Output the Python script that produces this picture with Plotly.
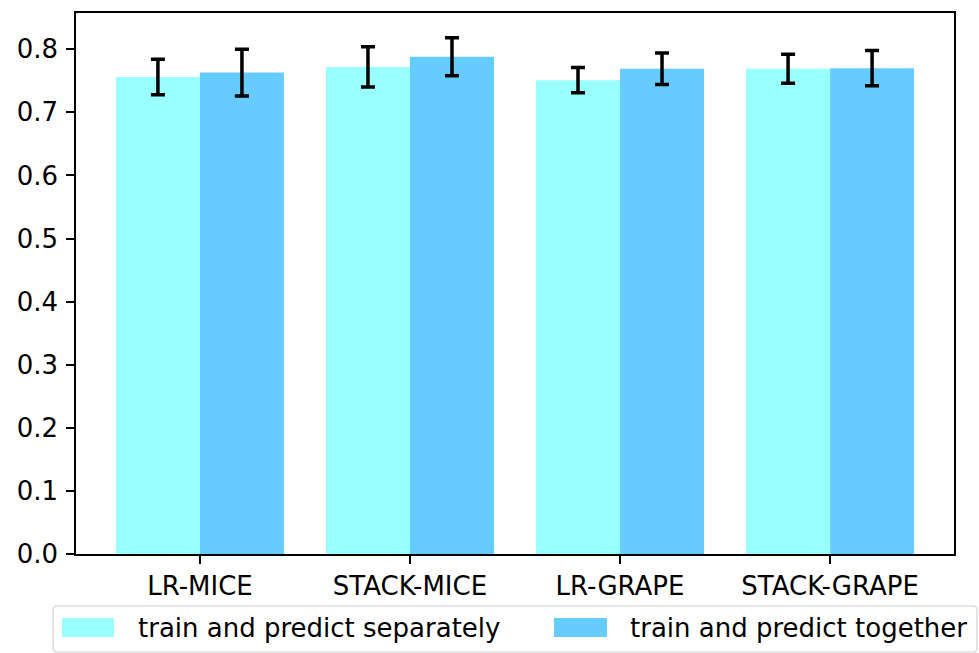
import plotly.graph_objects as go

# Mean scores and standard deviations per imputation/model setup
methods = ["LR-MICE", "STACK-MICE", "LR-GRAPE", "STACK-GRAPE"]
separate_mean = [0.756, 0.772, 0.751, 0.769]
separate_err = [0.028, 0.032, 0.020, 0.023]
together_mean = [0.763, 0.788, 0.769, 0.770]
together_err = [0.037, 0.030, 0.025, 0.028]
series_names = ["train and predict separately", "train and predict together"]
series_colors = ["#99ffff", "#66ccff"]

W, H = 979, 653
ML, MR, MT, MB = 76, 25, 13, 99
PW, PH = W - ML - MR, H - MT - MB
FONT = dict(family="DejaVu Sans", size=26, color="black")

fig = go.Figure()
for name, vals, errs, col in zip(series_names, [separate_mean, together_mean],
                                 [separate_err, together_err], series_colors):
    fig.add_trace(go.Bar(
        x=methods, y=vals, name=name, marker=dict(color=col, line=dict(width=0)),
        error_y=dict(type="data", array=errs, color="black", thickness=3.5, width=7),
        showlegend=False,
    ))

# Pixel -> paper helpers for the framed legend below the axes
def px(xp):
    return (xp - ML) / PW

def py(yp):
    return (H - MB - yp) / PH

def rounded_rect(x0, y0, x1, y1, r):
    rx, ry = r / PW, r / PH
    X0, X1 = px(x0), px(x1)
    Y0, Y1 = py(y1), py(y0)  # bottom, top in paper units
    return (f"M {X0+rx},{Y0} L {X1-rx},{Y0} Q {X1},{Y0} {X1},{Y0+ry} "
            f"L {X1},{Y1-ry} Q {X1},{Y1} {X1-rx},{Y1} L {X0+rx},{Y1} "
            f"Q {X0},{Y1} {X0},{Y1-ry} L {X0},{Y0+ry} Q {X0},{Y0} {X0+rx},{Y0} Z")

shapes = [dict(type="path", xref="paper", yref="paper",
               path=rounded_rect(53, 606, 977, 652, 4),
               line=dict(color="#d0d0d0", width=1.2), fillcolor="rgba(255,255,255,0.8)")]
annotations = []
legend_items = [(62, 114, 136), (554, 607, 628)]
for (x0, x1, tx), name, col in zip(legend_items, series_names, series_colors):
    shapes.append(dict(type="rect", xref="paper", yref="paper",
                       x0=px(x0), x1=px(x1), y0=py(637), y1=py(618),
                       fillcolor=col, line=dict(width=0)))
    annotations.append(dict(xref="paper", yref="paper", x=px(tx), y=py(628),
                            text=name, showarrow=False, xanchor="left",
                            yanchor="middle", font=FONT))

fig.update_layout(
    width=W, height=H,
    margin=dict(l=ML, r=MR, t=MT, b=MB, autoexpand=False),
    plot_bgcolor="white", paper_bgcolor="white",
    barmode="group", bargap=0.2, bargroupgap=0,
    font=FONT, shapes=shapes, annotations=annotations,
)
fig.update_xaxes(
    range=[-0.59, 3.59], showline=True, mirror=True, linecolor="black", linewidth=1.5,
    ticks="outside", ticklen=8, tickwidth=1.5, tickcolor="black", showgrid=False,
    tickfont=FONT,
)
fig.update_yaxes(
    range=[0, 0.8574], showline=True, mirror=True, linecolor="black", linewidth=1.5,
    ticks="outside", ticklen=8, tickwidth=1.5, tickcolor="black", showgrid=False,
    zeroline=False, tickmode="linear", tick0=0, dtick=0.1, tickformat=".1f",
    tickfont=FONT, ticklabelstandoff=3,
)

fig.write_html("out.html")
